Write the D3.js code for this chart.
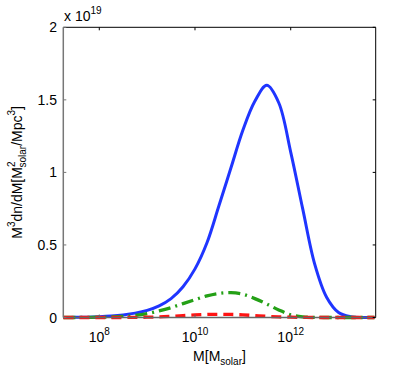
<!DOCTYPE html>
<html>
<head>
<meta charset="utf-8">
<script src="https://cdn.jsdelivr.net/npm/d3@7"></script>
<style>
  body { margin: 0; background: #fff; }
  svg { font-family: "Liberation Sans", Arial, sans-serif; }
</style>
</head>
<body>
<svg id="chart" width="415" height="372"></svg>
<script>
// log10 of mass, shared grid for all three curves
const logMass = [7.25, 7.5, 7.75, 8, 8.25, 8.5, 8.75, 9, 9.25, 9.5, 9.75, 10, 10.25, 10.5,
  10.75, 11, 11.25, 11.5, 11.75, 12, 12.25, 12.5, 12.75, 13, 13.25, 13.5, 13.75];

// values in units of 1e19
const blueVals = [0, 0.001, 0.002, 0.005, 0.010, 0.018, 0.030, 0.049, 0.080, 0.130, 0.212, 0.335, 0.515, 0.770,
  1.03, 1.29, 1.49, 1.60, 1.48, 1.14, 0.75, 0.37, 0.14, 0.035, 0.006, 0, 0];
const greenVals = [0, 0, 0.001, 0.002, 0.004, 0.008, 0.014, 0.026, 0.045, 0.068, 0.096, 0.123, 0.149, 0.166,
  0.171, 0.160, 0.130, 0.093, 0.052, 0.019, 0.005, 0.001, 0, 0, 0, 0, 0];
const redVals = [0, 0, 0, 0, 0, 0, 0.001, 0.002, 0.004, 0.008, 0.013, 0.018, 0.021, 0.022,
  0.021, 0.018, 0.013, 0.008, 0.004, 0.002, 0.001, 0, 0, 0, 0, 0, 0];

const xTickExp = [8, 10, 12];
const yTicks = [0, 0.5, 1, 1.5, 2];
const yTickLabels = ["0", "0.5", "1", "1.5", "2"];

const pLeft = 63.3, pRight = 375.7, pTop = 27.3, pBottom = 317.5;

const svg = d3.select('#chart');

const x = d3.scaleLog()
    .domain([Math.pow(10, 7.248), Math.pow(10, 13.776)])
    .range([pLeft, pRight]);
const y = d3.scaleLinear()
    .domain([0, 2])
    .range([pBottom, pTop]);

// curves first, frame on top
const line = d3.line()
    .x(function (d) { return x(Math.pow(10, d[0])) })
    .y(function (d) { return Math.min(y(d[1]), pBottom) })
    .curve(d3.curveCatmullRom.alpha(0.5));

const series = [
    {vals: blueVals, color: '#1f35ff', width: 3, dash: null},
    {vals: greenVals, color: '#24a016', width: 3.3, dash: '12,5,2,5'},
    {vals: redVals, color: '#ff1414', width: 3.3, dash: '10,6'}
];

const plot = svg.append('g').attr('class', 'lines');
series.forEach(function (s) {
    const pts = logMass.map(function (m, i) { return [m, s.vals[i]] });
    plot.append('path')
        .datum(pts)
        .attr('d', line)
        .attr('fill', 'none')
        .attr('stroke', s.color)
        .attr('stroke-width', s.width)
        .attr('stroke-dasharray', s.dash);
});

// box: left/bottom gray, top/right black
const frame = svg.append('g');
frame.append('line').attr('x1', pLeft).attr('x2', pRight).attr('y1', pTop).attr('y2', pTop)
    .attr('stroke', '#000').attr('stroke-width', 1);
frame.append('line').attr('x1', pRight).attr('x2', pRight).attr('y1', pTop).attr('y2', pBottom)
    .attr('stroke', '#000').attr('stroke-width', 1);
frame.append('line').attr('x1', pLeft).attr('x2', pLeft).attr('y1', pTop).attr('y2', pBottom)
    .attr('stroke', '#777').attr('stroke-width', 1.5);
frame.append('line').attr('x1', pLeft).attr('x2', pRight).attr('y1', pBottom).attr('y2', pBottom)
    .attr('stroke', '#666').attr('stroke-width', 1.5);

// inward ticks
yTicks.forEach(function (t) {
    frame.append('line').attr('x1', pLeft).attr('x2', pLeft + 3).attr('y1', y(t)).attr('y2', y(t))
        .attr('stroke', '#777');
    frame.append('line').attr('x1', pRight - 3).attr('x2', pRight).attr('y1', y(t)).attr('y2', y(t))
        .attr('stroke', '#000');
});
xTickExp.forEach(function (e) {
    const px = x(Math.pow(10, e));
    frame.append('line').attr('x1', px).attr('x2', px).attr('y1', pTop).attr('y2', pTop + 3)
        .attr('stroke', '#000');
    frame.append('line').attr('x1', px).attr('x2', px).attr('y1', pBottom - 3).attr('y2', pBottom)
        .attr('stroke', '#666');
});

// tick labels
yTicks.forEach(function (t, i) {
    svg.append('text')
        .attr('x', 57).attr('y', y(t) + 5)
        .attr('text-anchor', 'end')
        .attr('font-size', 14)
        .text(yTickLabels[i]);
});
xTickExp.forEach(function (e) {
    const px = x(Math.pow(10, e));
    const t = svg.append('text')
        .attr('x', px).attr('y', 342)
        .attr('text-anchor', 'middle')
        .attr('font-size', 14);
    t.append('tspan').text('10');
    t.append('tspan').attr('dy', -7).attr('font-size', 10).text(e);
});

// exponent note
const ex = svg.append('text').attr('x', 64).attr('y', 21).attr('font-size', 14);
ex.append('tspan').text('x 10');
ex.append('tspan').attr('dy', -7).attr('font-size', 10).text('19');

// x label
const xl = svg.append('text')
    .attr('x', (pLeft + pRight) / 2).attr('y', 361)
    .attr('text-anchor', 'middle')
    .attr('font-size', 14);
xl.append('tspan').text('M[M');
xl.append('tspan').attr('dy', 4).attr('font-size', 10).text('solar');
xl.append('tspan').attr('dy', -4).text(']');

// y label
const yl = svg.append('text')
    .attr('transform', 'translate(22,' + ((pTop + pBottom) / 2) + ') rotate(-90)')
    .attr('text-anchor', 'middle')
    .attr('font-size', 14);
yl.append('tspan').text('M');
yl.append('tspan').attr('dy', -7).attr('font-size', 10).text('3');
yl.append('tspan').attr('dy', 7).text('dn/dM[M');
yl.append('tspan').attr('dy', -7).attr('font-size', 10).text('2');
yl.append('tspan').attr('dx', -6).attr('dy', 11).attr('font-size', 10).text('solar');
yl.append('tspan').attr('dy', -4).text('/Mpc');
yl.append('tspan').attr('dy', -7).attr('font-size', 10).text('3');
yl.append('tspan').attr('dy', 7).text(']');
</script>
</body>
</html>
